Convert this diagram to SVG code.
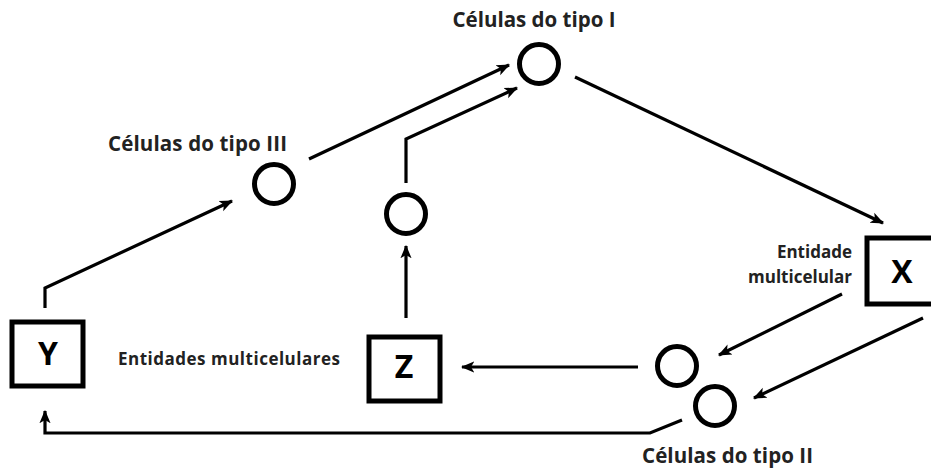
<svg xmlns="http://www.w3.org/2000/svg" width="931" height="468" viewBox="0 0 931 468">
<style>
.n{fill:none;stroke:#000;stroke-width:5}
.c{fill:none;stroke:#000;stroke-width:3.2;stroke-linejoin:miter}
.t{font-family:"Open Sans","Liberation Sans",sans-serif;font-weight:bold;font-size:20.5px;fill:#222}
.s{font-family:"Open Sans","Liberation Sans",sans-serif;font-weight:bold;font-size:17px;fill:#222}
.b{font-family:"Open Sans","Liberation Sans",sans-serif;font-weight:bold;font-size:32px;fill:#000;text-anchor:middle}
</style>
<defs>
<marker id="a" viewBox="0 0 12 10" refX="11" refY="5" markerWidth="4.2" markerHeight="4.2" orient="auto" markerUnits="strokeWidth">
<path d="M0,0 L12,5 L0,10 L3,5 Z" fill="#000"/>
</marker>
</defs>
<rect width="931" height="468" fill="#fff"/>
<g id="connectors">
<path class="c" d="M45,308 L45,288 L232,201" marker-end="url(#a)"/>
<path class="c" d="M309,159 L509,65" marker-end="url(#a)"/>
<path class="c" d="M406,183 L406,139 L517,88" marker-end="url(#a)"/>
<path class="c" d="M406,318 L406,246" marker-end="url(#a)"/>
<path class="c" d="M575,77 L883,223" marker-end="url(#a)"/>
<path class="c" d="M842,294 L719,355" marker-end="url(#a)"/>
<path class="c" d="M923,318 L754,398" marker-end="url(#a)"/>
<path class="c" d="M638,367 L462,367" marker-end="url(#a)"/>
<path class="c" d="M682,420 L650,433 L45,433 L45,411" marker-end="url(#a)"/>
</g>
<g id="tipoI"><circle class="n" cx="539" cy="64" r="19.5"/><text class="t" x="534" y="27" text-anchor="middle">Células do tipo I</text></g>
<g id="tipoIII"><circle class="n" cx="274" cy="184" r="19.5"/><text class="t" x="108" y="151" textLength="179">Células do tipo III</text></g>
<g id="mid"><circle class="n" cx="406" cy="214" r="19.5"/></g>
<g id="tipoIIa"><circle class="n" cx="677" cy="366" r="19.5"/></g>
<g id="tipoIIb"><circle class="n" cx="715" cy="406" r="19.5"/><text class="t" x="642" y="463" textLength="171">Células do tipo II</text></g>
<g id="Y"><rect class="n" x="12" y="322" width="71" height="64"/><text class="b" x="48" y="365">Y</text></g>
<g id="Z"><rect class="n" x="369" y="337" width="71" height="64"/><text class="b" x="404" y="378">Z</text></g>
<g id="X"><rect class="n" x="867" y="238" width="70" height="66"/><text class="b" x="902" y="283">X</text></g>
<g id="labels">
<text class="s" x="118" y="365" textLength="222" font-size="18">Entidades multicelulares</text>
<text class="s" x="852" y="258" text-anchor="end">Entidade</text>
<text class="s" x="852" y="283" text-anchor="end">multicelular</text>
</g>
</svg>
